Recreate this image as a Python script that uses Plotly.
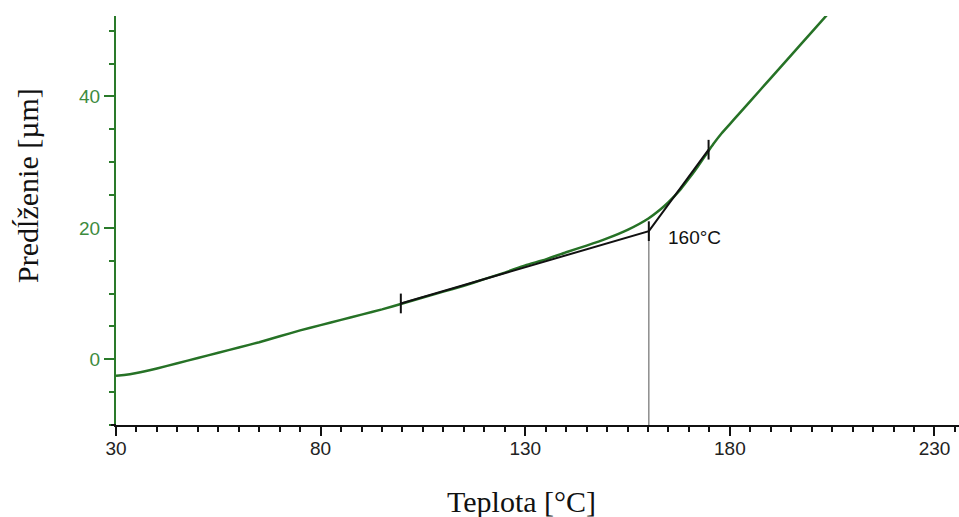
import plotly.graph_objects as go

# Curve data
teplota = [30, 32, 35, 40, 45, 50, 55, 60, 65, 70, 75, 80, 85, 90, 95, 100, 105, 110, 115, 120,
           125, 130, 135, 140, 145, 150, 155, 160, 163, 165, 168, 170, 172, 174, 176, 178, 180,
           182, 185, 190, 195, 200, 204]
predlzenie = [-2.5, -2.4, -2.1, -1.4, -0.6, 0.2, 1.0, 1.8, 2.6, 3.5, 4.4, 5.2, 6.0, 6.8, 7.6, 8.5,
              9.4, 10.3, 11.2, 12.2, 13.2, 14.3, 15.2, 16.3, 17.3, 18.4, 19.7, 21.4, 22.8, 23.9,
              25.9, 27.5, 29.2, 31.0, 32.8, 34.4, 35.8, 37.2, 39.3, 42.8, 46.3, 49.8, 52.6]

# Tangent construction
tangent_x = [99.6, 160.2, 174.8]
tangent_y = [8.5, 19.5, 31.9]
tick_half = 1.5
onset_x = 160.2
onset_label = "160°C"
label_pos = (164.4, 18.5)

x_range = [30, 235.99]
y_range = [-10, 52.25]

green = "#2a7a2a"
green_lbl = "#3d8b3d"

fig = go.Figure()
fig.add_trace(go.Scatter(x=teplota, y=predlzenie, mode="lines",
                         line=dict(color="#267226", width=2.5, shape="spline", smoothing=0.5),
                         hoverinfo="skip", showlegend=False))
# vertical line at onset
fig.add_trace(go.Scatter(x=[onset_x, onset_x], y=[tangent_y[1], y_range[0]], mode="lines",
                         line=dict(color="#7a7a7a", width=1.3), showlegend=False, hoverinfo="skip"))
# tangent lines
fig.add_trace(go.Scatter(x=tangent_x, y=tangent_y, mode="lines",
                         line=dict(color="#111111", width=2), showlegend=False, hoverinfo="skip"))
# small tick marks at tangent points
for tx, ty in zip(tangent_x, tangent_y):
    fig.add_trace(go.Scatter(x=[tx, tx], y=[ty - tick_half, ty + tick_half], mode="lines",
                             line=dict(color="#111111", width=2), showlegend=False, hoverinfo="skip"))

fig.add_annotation(x=label_pos[0], y=label_pos[1], text=onset_label, showarrow=False,
                   xanchor="left", yanchor="middle",
                   font=dict(family="Liberation Sans, Arial", size=19, color="#111111"))

# axis titles
fig.add_annotation(xref="paper", yref="paper", x=0.4816, y=-0.188, text="Teplota [°C]",
                   showarrow=False, xanchor="center", yanchor="middle",
                   font=dict(family="Liberation Serif, Times New Roman", size=30, color="#111111"))
fig.add_annotation(xref="paper", yref="paper", x=-0.1044, y=0.587, text="Predĺženie [µm]",
                   showarrow=False, xanchor="center", yanchor="middle", textangle=-90,
                   font=dict(family="Liberation Serif, Times New Roman", size=30, color="#111111"))

# short extension of the x axis line to the left of the y axis
fig.add_shape(type="line", xref="paper", yref="paper", x0=-0.006, x1=0, y0=0, y1=0,
              line=dict(color="#111111", width=2))

fig.update_layout(
    width=959, height=517,
    margin=dict(l=116, r=0, t=16, b=92),
    paper_bgcolor="white", plot_bgcolor="white",
    showlegend=False,
    xaxis=dict(range=x_range, showgrid=False, zeroline=False, showline=True,
               linecolor="#111111", linewidth=2, ticks="outside", ticklen=9, tickwidth=2,
               tickcolor="#111111", tick0=30, dtick=50, ticklabelstandoff=-4,
               tickfont=dict(family="Liberation Sans, Arial", size=19, color="#222222"),
               minor=dict(ticks="outside", dtick=5, tick0=30, ticklen=5, tickwidth=2,
                          tickcolor="#111111", showgrid=False)),
    yaxis=dict(range=y_range, showgrid=False, zeroline=False, showline=True,
               linecolor=green, linewidth=2, ticks="outside", ticklen=10, tickwidth=2,
               tickcolor=green, tick0=0, dtick=20,
               tickfont=dict(family="Liberation Sans, Arial", size=19, color=green_lbl),
               minor=dict(ticks="outside", dtick=5, tick0=0, ticklen=5, tickwidth=2,
                          tickcolor=green, showgrid=False)),
)

fig.write_html("out.html")
